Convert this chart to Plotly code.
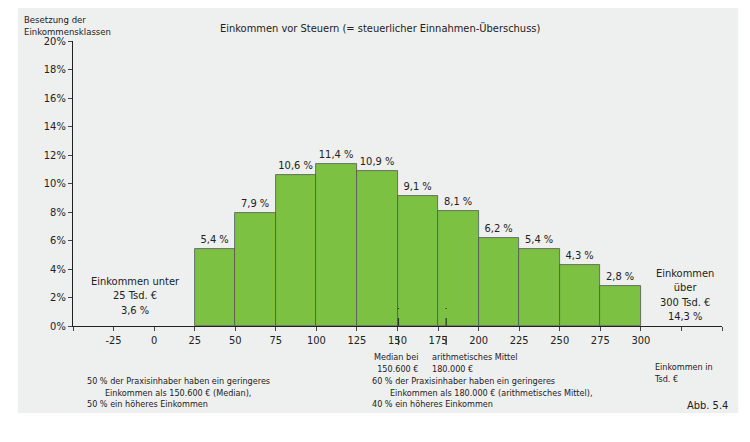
import plotly.graph_objects as go

# Einkommensklassen (untere Grenze in Tsd. €) und Anteile in %
class_start = [25, 50, 75, 100, 125, 150, 175, 200, 225, 250, 275]
shares = [5.4, 7.9, 10.6, 11.4, 10.9, 9.1, 8.1, 6.2, 5.4, 4.3, 2.8]
share_labels = ["5,4 %", "7,9 %", "10,6 %", "11,4 %", "10,9 %", "9,1 %",
                "8,1 %", "6,2 %", "5,4 %", "4,3 %", "2,8 %"]
x_ticks = [-50, -25, 0, 25, 50, 75, 100, 125, 150, 175, 200, 225, 250, 275, 300, 325, 350]
x_ticktext = ["", "-25", "0", "25", "50", "75", "100", "125", "150", "175",
              "200", "225", "250", "275", "300", "", ""]
y_ticks = [0, 2, 4, 6, 8, 10, 12, 14, 16, 18, 20]
median = 150.6
mean = 180.0

FONT = "DejaVu Sans Condensed, DejaVu Sans"

fig = go.Figure()
fig.add_trace(go.Bar(
    x=[s + 12.5 for s in class_start], y=shares, width=25,
    marker=dict(color="#7dc142", line=dict(color="#555555", width=0.8)),
    text=share_labels, textposition="outside", cliponaxis=False,
    textfont=dict(size=11, color="#222222"),
))

# dashed markers for median and mean
for v in (median, mean):
    fig.add_shape(type="line", x0=v, x1=v, y0=-0.067, y1=0.063, xref="x", yref="paper",
                  line=dict(color="#333333", width=1.2, dash="dash"))

fig.add_shape(type="rect", xref="paper", yref="paper", x0=-0.085, x1=1.025,
              y0=-0.305, y1=1.116, fillcolor="#eeefef", line_width=0, layer="below")

notes = [
    (-0.079, 1.10, "Besetzung der<br>Einkommensklassen", "left", 9.5),
    (0.473, 1.074, "Einkommen vor Steuern (= steuerlicher Einnahmen-Überschuss)", "center", 11),
    (0.096, 0.185, "Einkommen unter<br>25 Tsd. €<br>3,6 %", "center", 11),
    (0.943, 0.215, "Einkommen<br>über<br>300 Tsd. €<br>14,3 %", "center", 11),
    (0.535, -0.084, "Median bei<br>150.600 €", "right", 9),
    (0.55, -0.084, "arithmetisches Mittel<br>180.000 €", "left", 9),
    (0.892, -0.12, "Einkommen in<br>Tsd. €", "left", 9),
    (0.018, -0.168, "50 % der Praxisinhaber haben ein geringeres<br>"
     "       Einkommen als 150.600 € (Median),<br>50 % ein höheres Einkommen", "left", 9),
    (0.458, -0.168, "60 % der Praxisinhaber haben ein geringeres<br>"
     "       Einkommen als 180.000 € (arithmetisches Mittel),<br>40 % ein höheres Einkommen", "left", 9),
    (1.012, -0.25, "Abb. 5.4", "right", 11),
]
for x, y, t, al, sz in notes:
    fig.add_annotation(x=x, y=y, xref="paper", yref="paper", text=t, showarrow=False,
                       xanchor=al, yanchor="top", align=al,
                       font=dict(size=sz, color="#222222"))

fig.update_layout(
    width=750, height=442, margin=dict(l=65, r=36, t=33, b=124),
    paper_bgcolor="white", plot_bgcolor="rgba(0,0,0,0)",
    font=dict(family=FONT, color="#222222", size=11),
    showlegend=False, bargap=0,
)
fig.update_xaxes(range=[-50, 350], tickvals=x_ticks, ticktext=x_ticktext,
                 ticks="outside", ticklen=4, showline=True, linecolor="#222222",
                 showgrid=False, zeroline=False, tickfont=dict(size=11), automargin=False)
fig.update_yaxes(range=[0, 20], tickvals=y_ticks, ticktext=[f"{v}%" for v in y_ticks],
                 ticks="outside", ticklen=4, showline=True, linecolor="#222222",
                 showgrid=False, zeroline=False, tickfont=dict(size=11), automargin=False)

fig.write_html("out.html")
